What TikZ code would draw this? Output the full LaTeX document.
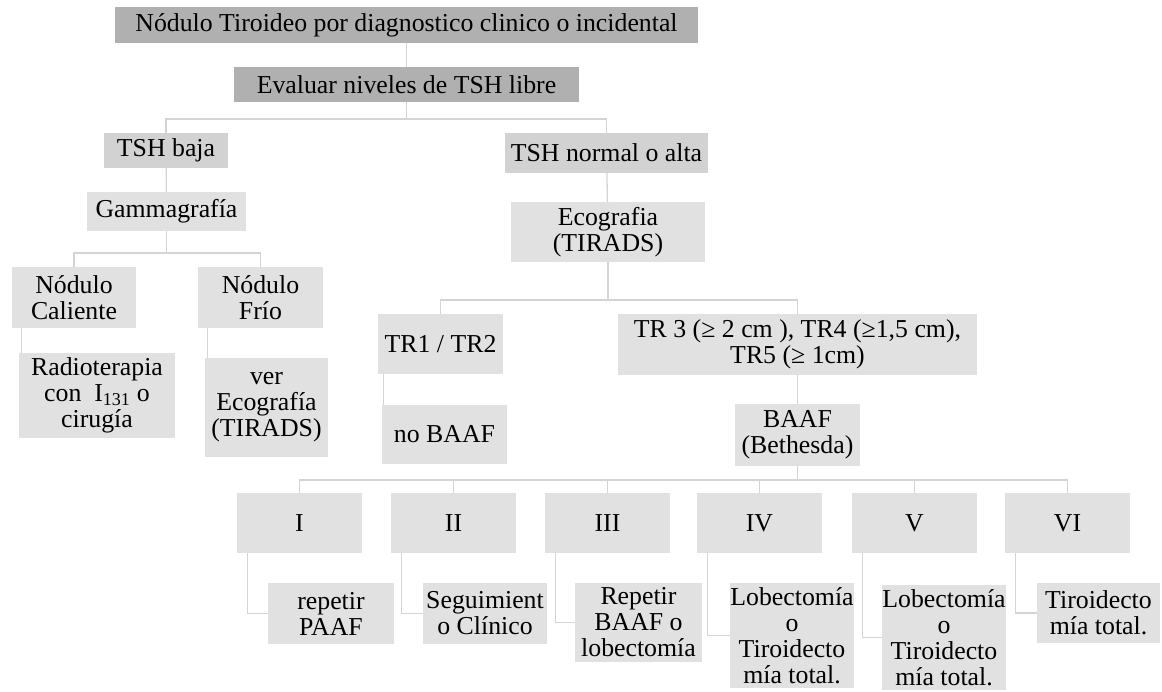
\documentclass[tikz,border=0pt]{standalone}
\usepackage{fontspec}
\setmainfont{Liberation Serif}
\usepackage{tikz}
\usetikzlibrary{backgrounds,calc}
\definecolor{BoxDark}{RGB}{176,176,176}
\definecolor{BoxMid}{RGB}{210,210,210}
\definecolor{BoxLight}{RGB}{225,225,225}
\definecolor{LinkGray}{RGB}{212,212,212}

\begin{document}
\begin{tikzpicture}[x=1pt,y=-1pt,
  cell/.style={fill=BoxLight,inner sep=0pt,align=center,
    font=\fontsize{25.8}{26}\selectfont},
  dim/.style 2 args={minimum width=#1pt,minimum height=#2pt},
  link/.style={draw=LinkGray,line width=1.3pt}]
  \useasboundingbox (0,0) rectangle (1162,692);
  % upper part of the tree
  \node[cell,fill=BoxDark,dim={583}{36}] (top) at (406.5,25)
    {Nódulo Tiroideo por diagnostico clinico o incidental};
  \node[cell,fill=BoxDark,dim={345}{35}] (eval) at (406.5,84.5)
    {Evaluar niveles de TSH libre};
  \node[cell,fill=BoxMid,dim={124}{35}] (tshb) at (166,150.5) {TSH baja};
  \node[cell,fill=BoxMid,dim={203}{40}] (tshn) at (606.5,153)
    {TSH normal o alta};
  \node[cell,dim={159}{39}] (gamma) at (166.5,211.5) {Gammagrafía};
  \node[cell,dim={194}{60}] (eco) at (608,232) {Ecografia\\(TIRADS)};
  % low TSH branch
  \node[cell,dim={124}{61}] (cal) at (74,297.5) {Nódulo\\Caliente};
  \node[cell,dim={125}{61}] (frio) at (260.5,297.5) {Nódulo\\Frío};
  \node[cell,dim={156}{85}] (radio) at (97,395.5)
    {Radioterapia\\con\ \ I\textsubscript{131} o\\cirugía};
  \node[cell,dim={123}{99}] (vereco) at (266.5,407.5)
    {ver\\Ecografía\\(TIRADS)};
  % TIRADS branch
  \node[cell,dim={125}{60}] (tr12) at (440.5,344) {TR1 / TR2};
  \node[cell,dim={125}{59}] (nobaaf) at (444.5,434.5) {no BAAF};
  \node[cell,dim={359}{61}] (tr345) at (797.5,344.5)
    {TR 3 (≥ 2 cm ), TR4 (≥1,5 cm),\\TR5 (≥ 1cm)};
  \node[cell,dim={125}{62}] (baaf) at (797.5,435) {BAAF\\(Bethesda)};
  % Bethesda categories
  \foreach \cat/\cx in {I/299.5,II/453.5,III/607.5,IV/759.5,V/914.5,VI/1067.5}
    \node[cell,dim={125}{60}] (cat\cat) at (\cx,523) {\cat};
  \node[cell,dim={126}{61}] (accI) at (331,613.5) {repetir\\PAAF};
  \node[cell,dim={124}{61}] (accII) at (485,613.5) {Seguimient\\o Clínico};
  \node[cell,dim={127}{79}] (accIII) at (638.5,622.5)
    {Repetir\\BAAF o\\lobectomía};
  \node[cell,dim={124}{105}] (accIV) at (792,635.5)
    {Lobectomía\\o\\Tiroidecto\\mía total.};
  \node[cell,dim={122}{105}] (accV) at (944,637.5)
    {Lobectomía\\o\\Tiroidecto\\mía total.};
  \node[cell,dim={123}{60}] (accVI) at (1098.5,613) {Tiroidecto\\mía total.};

  \begin{scope}[on background layer]
    \coordinate (busA) at (406.5,119);
    \coordinate (busB) at (166.5,253);
    \coordinate (busC) at (608,300);
    \coordinate (busD) at (797.5,480);
    \draw[link] (top) -- (eval);
    \draw[link] (eval) -- (busA);
    \draw[link] (tshb.north) |- (busA) -| (tshn.north);
    \draw[link] (tshb) -- (gamma);
    \draw[link] (gamma) -- (busB);
    \draw[link] (cal.north) |- (busB) -| (frio.north);
    \draw[link] ([xshift=10pt]cal.south west) |- (radio.west);
    \draw[link] ([xshift=10pt]frio.south west) |- (vereco.west);
    \draw[link] (tshn) -- (eco);
    \draw[link] (eco) -- (busC);
    \draw[link] (tr12.north) |- (busC) -| (tr345.north);
    \draw[link] ([xshift=6pt]tr12.south west) |- (nobaaf.west);
    \draw[link] (tr345) -- (baaf);
    \draw[link] (baaf) -- (busD);
    \draw[link] (catI.north) |- (busD) -| (catVI.north);
    \foreach \cat in {II,III,IV,V}
      \draw[link] (cat\cat.north) -- (cat\cat.north |- busD);
    \foreach \cat in {I,II,III,IV,V,VI}
      \draw[link] ([xshift=11pt]cat\cat.south west) |- (acc\cat.west);
  \end{scope}
\end{tikzpicture}
\end{document}
